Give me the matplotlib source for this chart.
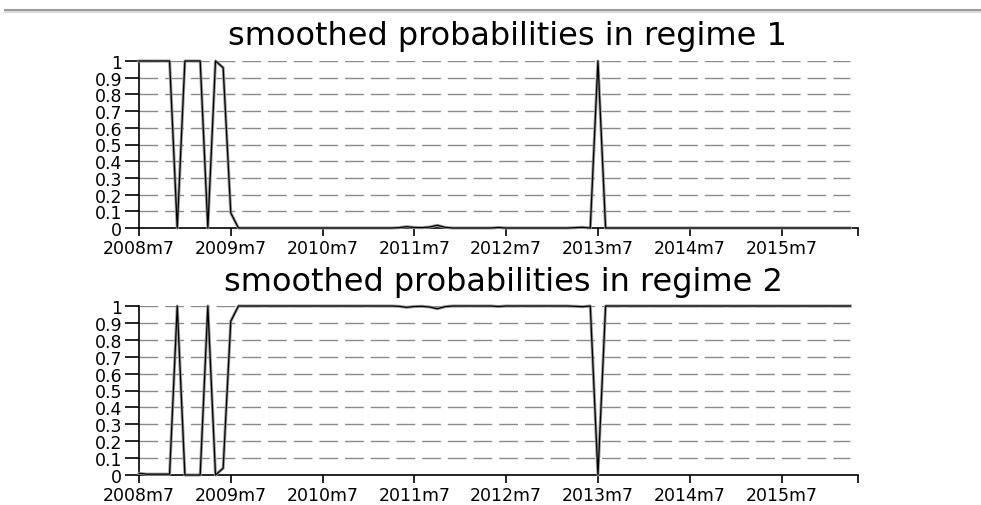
import matplotlib
matplotlib.use("Agg")
import matplotlib.pyplot as plt
from matplotlib.lines import Line2D

plt.rcParams['font.family'] = ['DejaVu Sans']

# ---- data (monthly, 2008m7 .. 2016m4) ----
months = list(range(94))
tick_positions = [0, 12, 24, 36, 48, 60, 72, 84]
tick_labels = ["2008m7", "2009m7", "2010m7", "2011m7", "2012m7", "2013m7", "2014m7", "2015m7"]
y_ticks = [0, 0.1, 0.2, 0.3, 0.4, 0.5, 0.6, 0.7, 0.8, 0.9, 1]
y_tick_labels = ["0", "0.1", "0.2", "0.3", "0.4", "0.5", "0.6", "0.7", "0.8", "0.9", "1"]

regime1 = [
    1, 1, 1, 1, 1, 0, 1, 1, 1, 0,
    1, 0.96, 0.09, 0, 0, 0, 0, 0, 0, 0,
    0, 0, 0, 0, 0, 0, 0, 0, 0, 0,
    0, 0, 0, 0, 0.002, 0.008, 0.003, 0.002, 0.006, 0.016,
    0.004, 0, 0, 0, 0, 0, 0, 0.003, 0, 0,
    0, 0, 0, 0, 0, 0, 0, 0.002, 0.004, 0,
    1, 0, 0, 0, 0, 0, 0, 0, 0, 0,
    0, 0, 0, 0, 0, 0, 0, 0, 0, 0,
    0, 0, 0, 0, 0, 0, 0, 0, 0, 0,
    0, 0, 0, 0,
]
regime2 = [
    0.01, 0.005, 0.005, 0.005, 0.005, 1, 0, 0, 0, 1,
    0, 0.04, 0.91, 1, 1, 1, 1, 1, 1, 1,
    1, 1, 1, 1, 1, 1, 1, 1, 1, 1,
    1, 1, 1, 1, 0.998, 0.992, 0.997, 0.998, 0.994, 0.984,
    0.996, 1, 1, 1, 1, 1, 1, 0.997, 1, 1,
    1, 1, 1, 1, 1, 1, 1, 0.998, 0.996, 1,
    0, 1, 1, 1, 1, 1, 1, 1, 1, 1,
    1, 1, 1, 1, 1, 1, 1, 1, 1, 1,
    1, 1, 1, 1, 1, 1, 1, 1, 1, 1,
    1, 1, 1, 1,
]
titles = ["smoothed probabilities in regime 1", "smoothed probabilities in regime 2"]

W, H = 981, 506
fig = plt.figure(figsize=(W / 100, H / 100), dpi=100)
fig.patch.set_facecolor("white")

# decorative grey rule at top of screenshot
fig.add_artist(Line2D([5 / W, 1], [1 - 10.5 / H, 1 - 10.5 / H], color="#9a9a9a", lw=2.2))
fig.add_artist(Line2D([5 / W, 1], [1 - 13 / H, 1 - 13 / H], color="#dcdcdc", lw=1.5))

def px_axes(left, right, top, bottom):
    return [left / W, 1 - bottom / H, (right - left) / W, (bottom - top) / H]

axes_boxes = [px_axes(139, 858, 62, 229), px_axes(139, 858, 307, 476)]
title_pos = [(507, 37), (503, 283)]
series = [regime1, regime2]

for box, (tx, ty), data, title in zip(axes_boxes, title_pos, series, titles):
    ax = fig.add_axes(box)
    ax.set_xlim(0, 94)
    ax.set_ylim(0, 1)
    for yv in y_ticks[1:]:
        ax.plot([0, 93], [yv, yv], color="#8a8a8a", lw=1.0,
                linestyle=(0, (13.5, 5.0)), zorder=1)
    ax.plot(months, data, color="#9a9a9a", lw=2.2, zorder=3, clip_on=False)
    ax.plot(months, data, color="black", lw=0.9, zorder=4, clip_on=False)
    ax.spines["top"].set_visible(False)
    ax.spines["right"].set_visible(False)
    for s in ("left", "bottom"):
        ax.spines[s].set_linewidth(1.2)
        ax.spines[s].set_color("black")
    ax.set_xticks(tick_positions + [94])
    ax.set_xticklabels(tick_labels + [""], fontsize=12.5)
    ax.set_yticks(y_ticks)
    ax.set_yticklabels(y_tick_labels, fontsize=12.5)
    ax.tick_params(axis="x", direction="out", length=6, width=1.2, pad=2)
    ax.tick_params(axis="y", direction="out", length=10, width=1.2, pad=2)
    fig.text(tx / W, 1 - ty / H, title, ha="center", va="center", fontsize=23)

fig.savefig("out.png", dpi=100, facecolor="white")
